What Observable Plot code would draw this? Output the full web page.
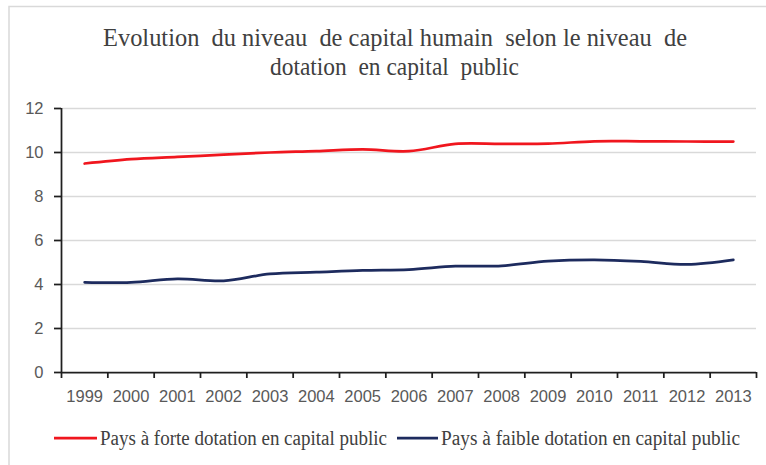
<!DOCTYPE html>
<html>
<head>
<meta charset="utf-8">
<script src="https://cdn.jsdelivr.net/npm/d3@7"></script>
<script src="https://cdn.jsdelivr.net/npm/@observablehq/plot@0.6"></script>
<style>
  html, body { margin: 0; padding: 0; background: #fff; }
  #wrap { position: relative; width: 766px; height: 465px; overflow: hidden; background: #fff; }
  #wrap > svg { position: absolute; left: 0; top: 0; }
  #overlay { pointer-events: none; }
  .serif-txt { position: absolute; font-family: "Liberation Serif", "Times New Roman", serif; line-height: 1; white-space: pre; color: #404040; }
</style>
</head>
<body>
<div id="wrap"></div>
<script>
const years = [1999, 2000, 2001, 2002, 2003, 2004, 2005, 2006, 2007, 2008, 2009, 2010, 2011, 2012, 2013];
const forte = [9.5, 9.7, 9.8, 9.9, 10.0, 10.06, 10.14, 10.06, 10.39, 10.39, 10.4, 10.51, 10.51, 10.5, 10.5];
const faible = [4.1, 4.1, 4.26, 4.17, 4.48, 4.56, 4.64, 4.68, 4.83, 4.85, 5.06, 5.12, 5.05, 4.91, 5.12];
const yTicks = [0, 2, 4, 6, 8, 10, 12];
const seriesNames = ["Pays à forte dotation en capital public", "Pays à faible dotation en capital public"];
const seriesColors = ["#f0161e", "#1d2b5e"];
const titleLines = ["Evolution  du niveau  de capital humain  selon le niveau  de", "dotation  en capital  public"];

const rows = [];
years.forEach((yr, i) => {
  rows.push({year: yr, value: forte[i], serie: seriesNames[0]});
  rows.push({year: yr, value: faible[i], serie: seriesNames[1]});
});
const boundaries = [years[0] - 0.5, ...years.map(y => y + 0.5)];

const axisColor = "#1f1f1f";
const labelColor = "#595959";

const chart = Plot.plot({
  width: 766,
  height: 465,
  marginLeft: 61,
  marginRight: 10,
  marginTop: 108,
  marginBottom: 93,
  style: {fontFamily: "Liberation Sans, Arial, sans-serif", fontSize: "16.5px", background: "transparent"},
  x: {type: "linear", domain: [years[0] - 0.5, years[years.length - 1] + 0.5], label: null},
  y: {domain: [0, 12], label: null},
  color: {domain: seriesNames, range: seriesColors},
  marks: [
    Plot.gridY(yTicks.filter(d => d > 0), {stroke: "#d9d9d9", strokeOpacity: 1, strokeWidth: 1.5}),
    Plot.axisY(yTicks, {tickSize: 7, tickPadding: 11, stroke: axisColor, strokeWidth: 1.75, fill: labelColor, fontSize: 16.5, tickFormat: d => String(d), label: null}),
    Plot.axisX(boundaries, {tickSize: 6, stroke: axisColor, strokeWidth: 1.75, tickFormat: () => "", label: null}),
    Plot.axisX(years, {tickSize: 0, tickPadding: 17.5, fill: labelColor, fontSize: 16.5, tickFormat: d => String(d), label: null}),
    Plot.ruleX([years[0] - 0.5], {stroke: axisColor, strokeWidth: 1.75}),
    Plot.ruleY([0], {stroke: axisColor, strokeWidth: 1.75}),
    Plot.line(rows, {x: "year", y: "value", z: "serie", stroke: "serie", strokeWidth: 2.75, curve: "catmull-rom"})
  ]
});

const wrap = document.getElementById("wrap");
wrap.appendChild(chart);

// Overlay: frame and legend swatches
const svg = d3.select(wrap).append("svg")
  .attr("id", "overlay")
  .attr("width", 766).attr("height", 465);

svg.append("path")
  .attr("d", "M9,465 L9,6.5 L766,6.5")
  .attr("fill", "none").attr("stroke", "#d9d9d9").attr("stroke-width", 1.5);

const legendItems = [
  {name: seriesNames[0], color: seriesColors[0], x1: 54, x2: 97, tx: 99.5, tw: 287},
  {name: seriesNames[1], color: seriesColors[1], x1: 397, x2: 438, tx: 441, tw: 299}
];
legendItems.forEach(it => {
  svg.append("line").attr("x1", it.x1).attr("x2", it.x2).attr("y1", 438).attr("y2", 438)
    .attr("stroke", it.color).attr("stroke-width", 2.75);
});

// Serif texts (title and legend labels), fitted to the reference widths
function placeText(txt, x, baseline, fs, targetW, sy) {
  const d = document.createElement("div");
  d.className = "serif-txt";
  d.textContent = txt;
  const asc = 0.8375 * fs;
  d.style.fontSize = fs + "px";
  d.style.left = x + "px";
  d.style.top = (baseline - asc) + "px";
  d.style.transformOrigin = `0px ${asc}px`;
  wrap.appendChild(d);
  const w = d.getBoundingClientRect().width;
  d.style.transform = `scale(${targetW / w}, ${sy})`;
}
placeText(titleLines[0], 103, 46.5, 24, 584, 1.05);
placeText(titleLines[1], 270, 75, 24, 249, 1.05);
legendItems.forEach(it => placeText(it.name, it.tx, 445, 20, it.tw, 1.08));
</script>
</body>
</html>
